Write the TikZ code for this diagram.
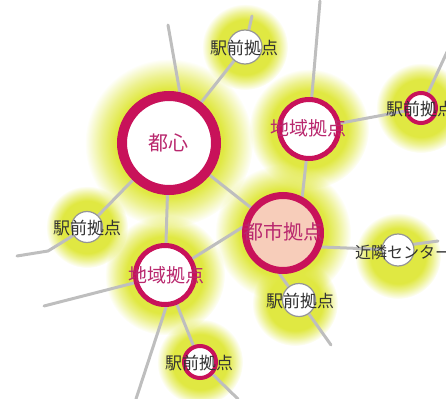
\documentclass[tikz,border=0pt]{standalone}
\usepackage{fontspec}
\newfontfamily\jp{Noto Sans CJK JP}
\usetikzlibrary{fadings}
\pgfdeclarelayer{glowlayer}
\pgfdeclarelayer{linelayer}
\pgfsetlayers{glowlayer,linelayer,main}
\pgfdeclareradialshading{glowshade}{\pgfpointorigin}{color(0bp)=(pgftransparent!0); color(16bp)=(pgftransparent!0); color(20bp)=(pgftransparent!40); color(25bp)=(pgftransparent!100); color(50bp)=(pgftransparent!100)}
\pgfdeclarefading{glowfade}{\pgfuseshading{glowshade}}
\definecolor{ringmag}{RGB}{200,18,90}
\definecolor{txtmag}{RGB}{185,40,110}
\definecolor{pinkfill}{RGB}{247,205,186}
\definecolor{glowc}{RGB}{224,232,66}
\definecolor{linegray}{RGB}{190,190,190}
\definecolor{bordergray}{RGB}{150,150,150}
\tikzset{
  bigring/.style={circle, draw=ringmag, fill=white, inner sep=0pt, line width=#1},
  smallgray/.style={circle, draw=bordergray, fill=white, inner sep=0pt, line width=1.2pt, minimum size=#1},
  smallmag/.style={circle, draw=ringmag, fill=white, inner sep=0pt, line width=4pt, minimum size=#1},
  magtext/.style={font=\jp\fontsize{#1}{#1}\selectfont, text=txtmag, inner sep=0pt},
  blktext/.style={font=\jp\fontsize{#1}{#1}\selectfont, text=black!80, inner sep=0pt},
  conn/.style={draw=linegray, line width=3pt, line cap=round, line join=round},
}
\newcommand{\glowat}[3]{\fill[glowc, path fading=glowfade] (#1,#2) circle (#3);}
\begin{document}
\begin{tikzpicture}[x=1pt, y=-1pt]
\useasboundingbox (0,0) rectangle (446,398);
\begin{scope}
\clip (0,0) rectangle (446,398);
% nodes
\node[bigring=10pt, minimum size=94pt] (T) at (169,143) {};
\node[bigring=5pt, minimum size=59pt] (A1) at (309,129) {};
\node[bigring=7pt, minimum size=75pt, fill=pinkfill] (C) at (283,233) {};
\node[bigring=5pt, minimum size=59pt] (A2) at (165,275) {};
\node[smallgray=34pt] (S1) at (245,47) {};
\node[smallmag=30pt] (S2) at (421,108) {};
\node[smallgray=31pt] (S3) at (87,227) {};
\node[smallmag=32pt] (S4) at (200,362) {};
\node[smallgray=33pt] (S5) at (299,300) {};
\node[smallgray=32pt] (N) at (398,250) {};
% free ends
\coordinate (p1) at (168,25);
\coordinate (p2) at (252,16);
\coordinate (p3) at (320,1);
\coordinate (p4) at (447,52);
\coordinate (q1) at (48,251);
\coordinate (q2) at (17,256);
\coordinate (p5) at (44,306);
\coordinate (p6) at (136,399);
\coordinate (p7) at (238,399);
\coordinate (p8) at (331,345);
\coordinate (p9) at (438,241);
% glows
\begin{pgfonlayer}{glowlayer}
\glowat{169}{143}{84}
\glowat{309}{129}{60}
\glowat{283}{233}{68}
\glowat{165}{275}{60}
\glowat{245}{47}{43}
\glowat{421}{108}{45}
\glowat{87}{227}{41}
\glowat{200}{362}{43}
\glowat{295}{303}{43}
\glowat{398}{256}{43}
\end{pgfonlayer}
% connectors
\begin{pgfonlayer}{linelayer}
\draw[conn] (T.78) -- (p1);
\draw[conn] (T) -- (S1);
\draw[conn] (S1) -- (p2);
\draw[conn] (A1) -- (p3);
\draw[conn] (A1) -- (S2);
\draw[conn] (S2) -- (p4);
\draw[conn] (A1.265) -- (C.62);
\draw[conn] (T) -- (C);
\draw[conn] (T) -- (A2);
\draw[conn] (T) -- (S3);
\draw[conn] (S3) -- (q1) -- (q2);
\draw[conn] (A2) -- (p5);
\draw[conn] (A2.-88) -- (p6);
\draw[conn] (A2) -- (S4);
\draw[conn] (S4) -- (p7);
\draw[conn] (A2.31) -- (C.172);
\draw[conn] (C.-20) -- (N);
\draw[conn] (C.-95) -- (S5.128);
\draw[conn] (S5) -- (p8);
\draw[conn] (N.20) -- (p9);
\end{pgfonlayer}
% labels
\node[magtext=20pt] (Tt) at (168,143) {都心};
\node[magtext=19pt] (A1t) at (308,128) {地域拠点};
\node[magtext=20pt] (Ct) at (283,232) {都市拠点};
\node[magtext=19pt] (A2t) at (166,275) {地域拠点};
\node[blktext=17pt] (S1t) at (244,48) {駅前拠点};
\node[blktext=17pt] (S2t) at (420,109) {駅前拠点};
\node[blktext=17pt] (S3t) at (87,228) {駅前拠点};
\node[blktext=17pt] (S4t) at (199,363) {駅前拠点};
\node[blktext=17pt] (S5t) at (300,301) {駅前拠点};
\node[blktext=16pt] (Nt) at (403,252) {近隣センター};
\end{scope}
\end{tikzpicture}
\end{document}
